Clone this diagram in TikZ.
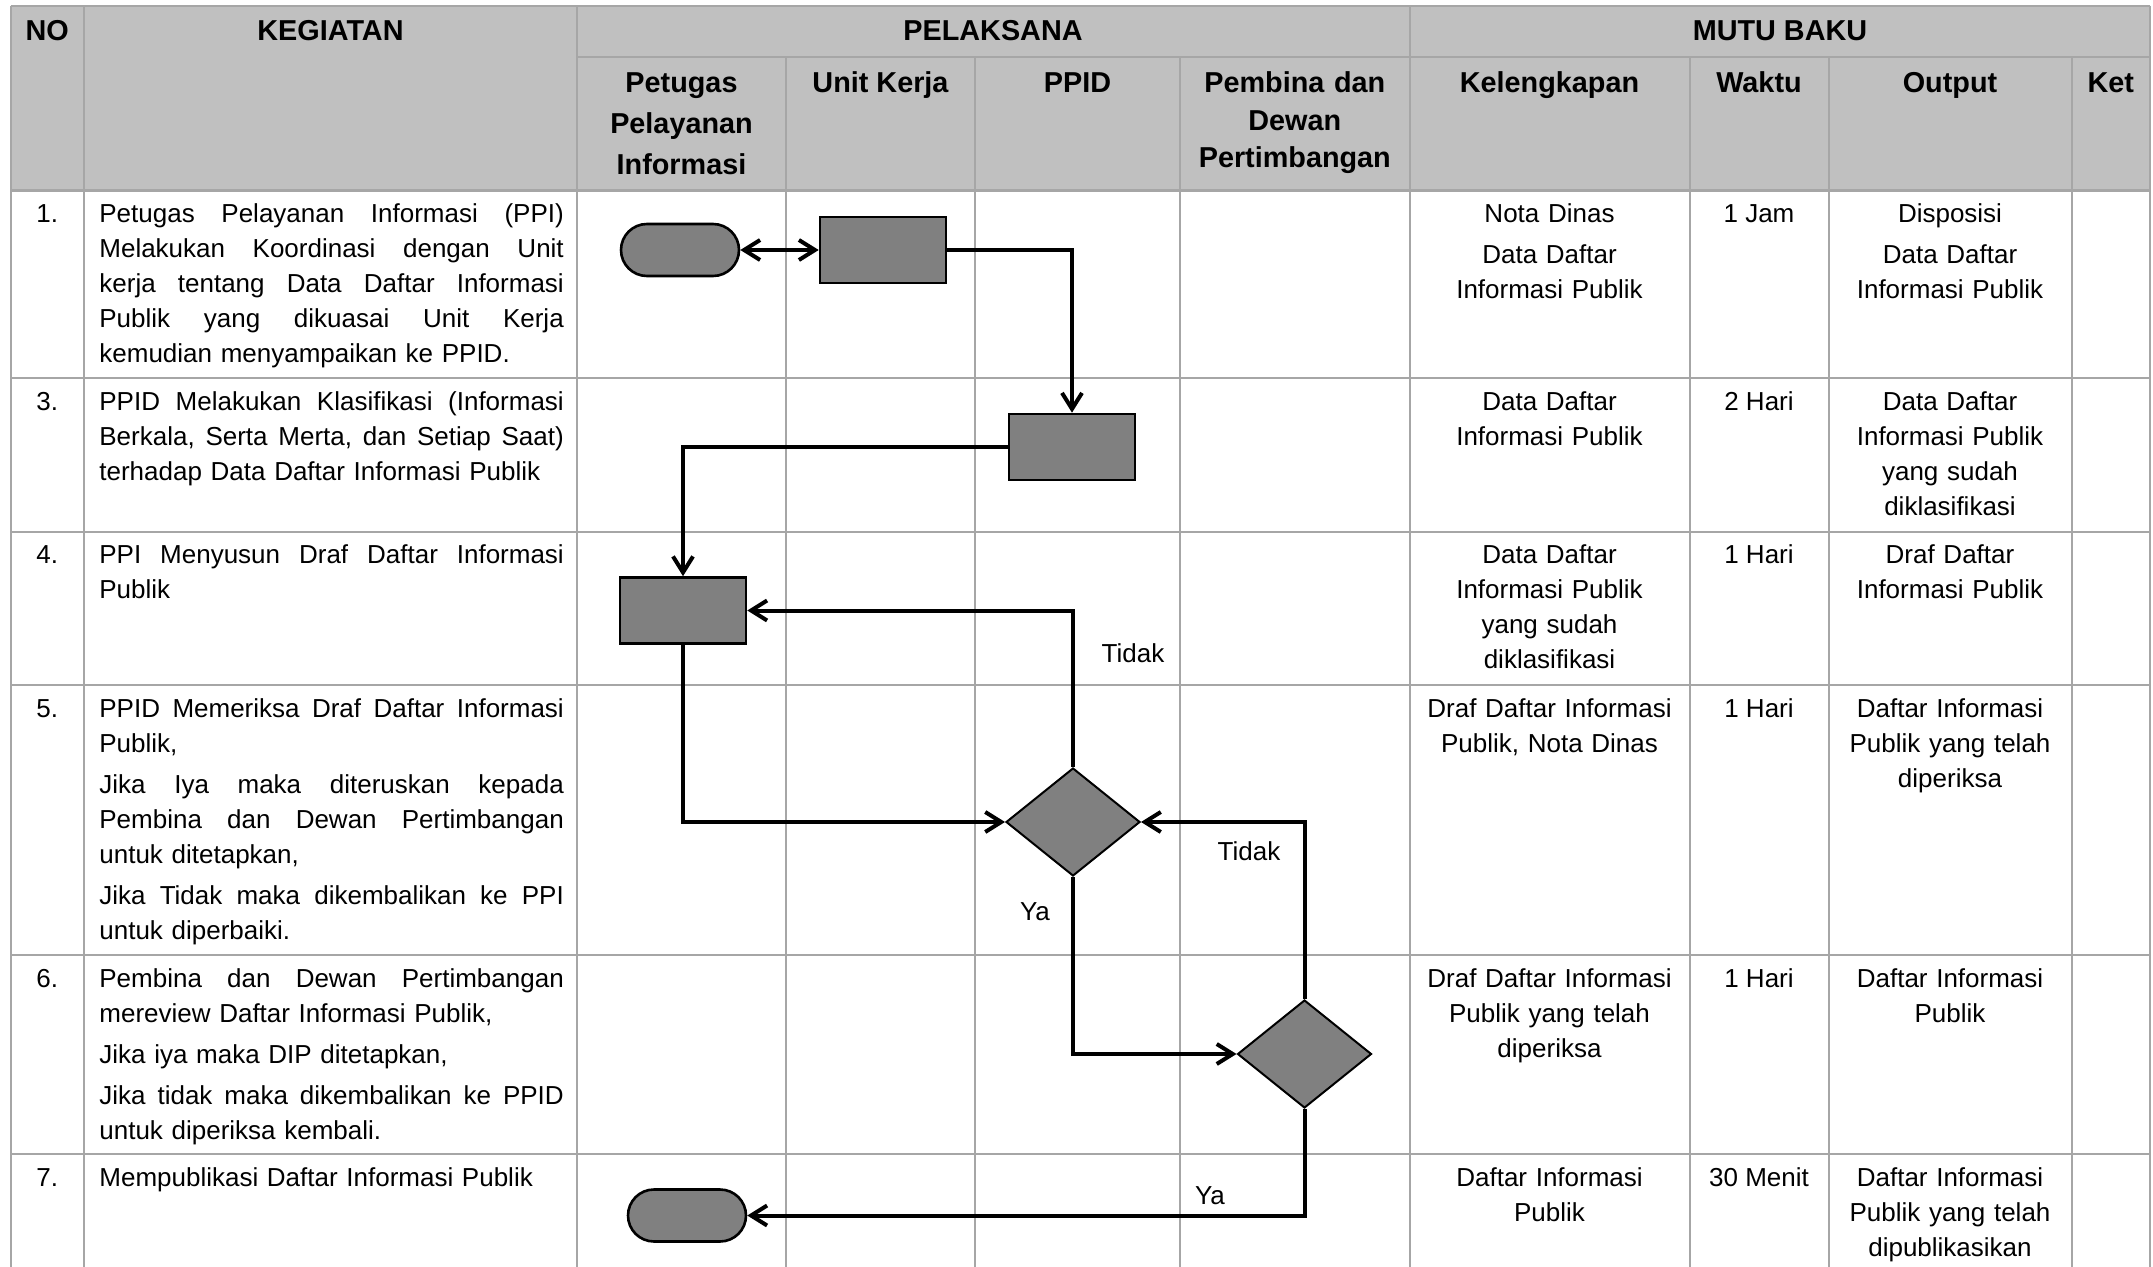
\documentclass[tikz,border=0pt]{standalone}
\usepackage{fontspec}
\setmainfont{Liberation Sans}
\usetikzlibrary{arrows.meta,shapes.misc,shapes.geometric}
\definecolor{gridc}{RGB}{166,166,166}
\definecolor{headc}{RGB}{192,192,192}
\definecolor{shapec}{RGB}{128,128,128}
\newlength{\jw}\setlength{\jw}{232.2pt}
\newcommand{\jl}[1]{\leavevmode\hbox to\jw{\frenchspacing\spaceskip=0.278em plus 1fil\relax #1}}
\begin{document}
\begin{tikzpicture}[x=0.5pt,y=-0.5pt,
  bodyfont/.style={font=\fontsize{13pt}{17.5pt}\selectfont, inner sep=0pt, anchor=base},
  head/.style={font=\fontsize{14.4pt}{20pt}\selectfont\bfseries, inner sep=0pt, anchor=base, align=center},
  kegtext/.style={bodyfont, anchor=base west, align=left, text width=232.2pt},
  cellc/.style={bodyfont, align=center, text width=#1},
  gridline/.style={draw=gridc, line width=1pt},
  proc/.style={rectangle, draw=black, line width=1.3pt, fill=shapec, minimum width=63pt, minimum height=33pt, inner sep=0pt},
  term/.style={rounded rectangle, draw=black, line width=1.3pt, fill=shapec, minimum width=59pt, minimum height=26pt, inner sep=0pt},
  dec/.style={diamond, draw=black, line width=1pt, fill=shapec, minimum width=67pt, minimum height=54pt, inner sep=0pt},
  conn/.style={line width=2pt, -{Straight Barb[length=8pt,width=10pt]}},
  dconn/.style={line width=2pt, {Straight Barb[length=8pt,width=10pt]}-{Straight Barb[length=8pt,width=10pt]}}
]
\useasboundingbox (0,0) rectangle (2153,1267);
% header background
\fill[headc] (10.5,5.7) rectangle (2150,190.7);
% grid
\draw[gridline] (10.5,5.7) -- (2150,5.7);
\draw[gridline] (577,56.7) -- (2150,56.7);
\draw[draw=gridc, line width=1.6pt] (10.5,190.7) -- (2150,190.7);
\foreach \yy in {378.3,531.7,685,955,1154.3} {\draw[gridline] (10.5,\yy) -- (2150,\yy);}
\foreach \xx in {10.5,84,577,1409.5,2150} {\draw[gridline] (\xx,5.7) -- (\xx,1267);}
\foreach \xx in {786,975,1180,1689.5,1829,2071.5} {\draw[gridline] (\xx,56.7) -- (\xx,1267);}
% header text
\node[head] (hNo) at (47.3,40.5) {NO};
\node[head] (hKeg) at (330.5,40.5) {KEGIATAN};
\node[head] (hPel) at (993,40.5) {PELAKSANA};
\node[head] (hMutu) at (1780,40.5) {MUTU BAKU};
\node[head, text width=100pt, font=\fontsize{14.4pt}{20.6pt}\selectfont\bfseries] (hPet) at (681.5,92.5) {Petugas\\Pelayanan\\Informasi};
\node[head] (hUnit) at (880.5,92.5) {Unit Kerja};
\node[head] (hPpid) at (1077.5,92.5) {PPID};
\node[head, text width=110pt, font=\fontsize{14.4pt}{18.85pt}\selectfont\bfseries] (hPem) at (1294.8,92.5) {Pembina dan\\Dewan\\Pertimbangan};
\node[head] (hKel) at (1549.5,92.5) {Kelengkapan};
\node[head] (hWak) at (1759,92.5) {Waktu};
\node[head] (hOut) at (1950,92.5) {Output};
\node[head] (hKet) at (2110.8,92.5) {Ket};
% numbers
\node[bodyfont] (n1) at (47.3,222.7) {1.};
\node[bodyfont] (n3) at (47.3,410.3) {3.};
\node[bodyfont] (n4) at (47.3,563.7) {4.};
\node[bodyfont] (n5) at (47.3,717) {5.};
\node[bodyfont] (n6) at (47.3,987) {6.};
\node[bodyfont] (n7) at (47.3,1186.3) {7.};
% kegiatan
\node[kegtext] (k1) at (99,222.7) {\jl{Petugas Pelayanan Informasi (PPI)}\\\jl{Melakukan Koordinasi dengan Unit}\\\jl{kerja tentang Data Daftar Informasi}\\\jl{Publik yang dikuasai Unit Kerja}\\kemudian menyampaikan ke PPID.};
\node[kegtext] (k3) at (99,410.3) {\jl{PPID Melakukan Klasifikasi (Informasi}\\\jl{Berkala, Serta Merta, dan Setiap Saat)}\\terhadap Data Daftar Informasi Publik};
\node[kegtext] (k4) at (99,563.7) {\jl{PPI Menyusun Draf Daftar Informasi}\\Publik};
\node[kegtext] (k5) at (99,717) {\jl{PPID Memeriksa Draf Daftar Informasi}\\Publik,\\[3pt]\jl{Jika Iya maka diteruskan kepada}\\\jl{Pembina dan Dewan Pertimbangan}\\untuk ditetapkan,\\[3pt]\jl{Jika Tidak maka dikembalikan ke PPI}\\untuk diperbaiki.};
\node[kegtext] (k6) at (99,987) {\jl{Pembina dan Dewan Pertimbangan}\\mereview Daftar Informasi Publik,\\[3pt]Jika iya maka DIP ditetapkan,\\[3pt]\jl{Jika tidak maka dikembalikan ke PPID}\\untuk diperiksa kembali.};
\node[kegtext] (k7) at (99,1186.3) {Mempublikasi Daftar Informasi Publik};
% kelengkapan
\node[cellc=138pt] (c1) at (1549.5,222.7) {Nota Dinas\\[3pt]Data Daftar\\Informasi Publik};
\node[cellc=138pt] (c3) at (1549.5,410.3) {Data Daftar\\Informasi Publik};
\node[cellc=138pt] (c4) at (1549.5,563.7) {Data Daftar\\Informasi Publik\\yang sudah\\diklasifikasi};
\node[cellc=138pt] (c5) at (1549.5,717) {Draf Daftar Informasi\\Publik, Nota Dinas};
\node[cellc=138pt] (c6) at (1549.5,987) {Draf Daftar Informasi\\Publik yang telah\\diperiksa};
\node[cellc=138pt] (c7) at (1549.5,1186.3) {Daftar Informasi\\Publik};
% waktu
\node[bodyfont] (w1) at (1759,222.7) {1 Jam};
\node[bodyfont] (w3) at (1759,410.3) {2 Hari};
\node[bodyfont] (w4) at (1759,563.7) {1 Hari};
\node[bodyfont] (w5) at (1759,717) {1 Hari};
\node[bodyfont] (w6) at (1759,987) {1 Hari};
\node[bodyfont] (w7) at (1759,1186.3) {30 Menit};
% output
\node[cellc=119pt] (o1) at (1950,222.7) {Disposisi\\[3pt]Data Daftar\\Informasi Publik};
\node[cellc=119pt] (o3) at (1950,410.3) {Data Daftar\\Informasi Publik\\yang sudah\\diklasifikasi};
\node[cellc=119pt] (o4) at (1950,563.7) {Draf Daftar\\Informasi Publik};
\node[cellc=119pt] (o5) at (1950,717) {Daftar Informasi\\Publik yang telah\\diperiksa};
\node[cellc=119pt] (o6) at (1950,987) {Daftar Informasi\\Publik};
\node[cellc=119pt] (o7) at (1950,1186.3) {Daftar Informasi\\Publik yang telah\\dipublikasikan};
% flowchart shapes
\node[term] (T1) at (680,250) {};
\node[proc] (R1) at (883,250) {};
\node[proc] (R3) at (1072,447) {};
\node[proc] (R4) at (683,610.5) {};
\node[dec] (D1) at (1073,822) {};
\node[dec] (D2) at (1304.5,1054) {};
\node[term] (T2) at (687,1215.5) {};
% connectors
\draw[dconn] (T1.east) -- (R1.west);
\draw[conn] (R1.east) -| (R3.north);
\draw[conn] (R3.west) -| (R4.north);
\draw[conn] (R4.south) |- (D1.west);
\draw[conn] (D1.north) |- (R4.east);
\draw[conn] (D1.south) |- (D2.west);
\draw[conn] (D2.north) |- (D1.east);
\draw[conn] (D2.south) |- (T2.east);
% labels
\node[bodyfont] (lT1) at (1133,662) {Tidak};
\node[bodyfont] (lT2) at (1249,860) {Tidak};
\node[bodyfont] (lY1) at (1035,920) {Ya};
\node[bodyfont] (lY2) at (1210,1204) {Ya};
\end{tikzpicture}
\end{document}
